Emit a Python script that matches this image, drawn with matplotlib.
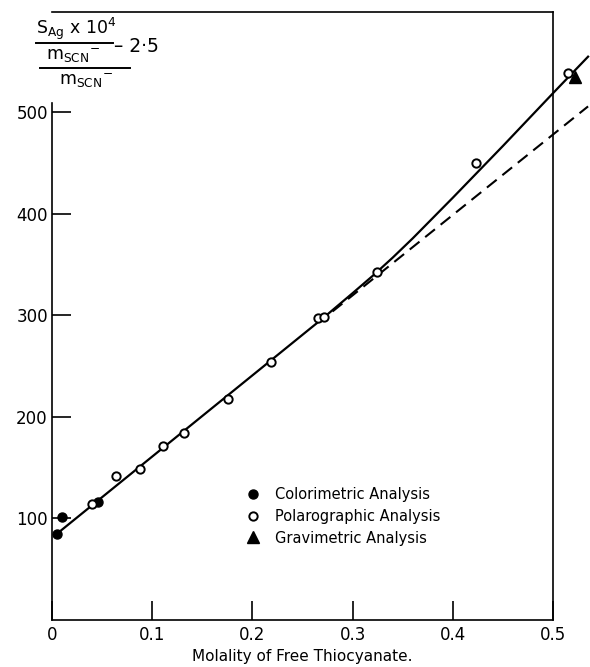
import numpy as np
import matplotlib
matplotlib.use("Agg")
import matplotlib.pyplot as plt
from matplotlib.lines import Line2D

# data
colori_x = [0.005, 0.010, 0.046]
colori_y = [85, 101, 116]

polaro_x = [0.040, 0.064, 0.088, 0.111, 0.132, 0.176, 0.219, 0.265, 0.271,
            0.324, 0.423, 0.515]
polaro_y = [114, 142, 149, 171, 184, 218, 254, 298, 299, 343, 450, 539]

gravi_x = [0.522]
gravi_y = [535]

# smooth curve drawn through the data
curve_x = [0.005, 0.10, 0.20, 0.27, 0.30, 0.32, 0.34, 0.36, 0.38, 0.40,
           0.45, 0.50, 0.535]
curve_y = [85, 161, 241, 297, 322, 339, 357, 376, 396, 416,
           467, 519, 555]

# linear extension (dashed)
ext_x = [0.28, 0.535]
ext_y = [304, 506]

xticks = [0, 0.1, 0.2, 0.3, 0.4, 0.5]
xticklabels = ['0', '0.1', '0.2', '0.3', '0.4', '0.5']
yticks = [100, 200, 300, 400, 500]

W, H = 590, 667
fig = plt.figure(figsize=(W / 100, H / 100), dpi=100)
ax = fig.add_axes([52 / W, 1 - 620 / H, (553 - 52) / W, (620 - 12) / H])

ax.plot(curve_x, curve_y, color='black', lw=1.6, clip_on=False, zorder=2)
ax.plot(ext_x, ext_y, color='black', lw=1.5, ls=(0, (6, 3.5)), clip_on=False, zorder=2)

ax.plot(colori_x, colori_y, 'o', color='black', ms=6.5, clip_on=False, zorder=3,
        label='Colorimetric Analysis')
ax.plot(polaro_x, polaro_y, 'o', mfc='white', mec='black', mew=1.4, ms=6,
        clip_on=False, zorder=3, label='Polarographic Analysis')
ax.plot(gravi_x, gravi_y, '^', color='black', ms=8, clip_on=False, zorder=4,
        label='Gravimetric Analysis')

ax.set_xlim(0, 0.5)
ax.set_ylim(0, 599)
ax.set_xticks(xticks)
ax.set_xticklabels(xticklabels)
ax.set_yticks(yticks)

ax.tick_params(direction='in', length=13.5, width=1.2, labelsize=12)
ax.tick_params(axis='x', pad=4)
ax.tick_params(axis='y', pad=3)
for s in ax.spines.values():
    s.set_linewidth(1.2)
ax.spines['left'].set_bounds(0, 509)

ax.set_xlabel('Molality of Free Thiocyanate.', fontsize=11, labelpad=4)

ax.legend(loc='upper left', bbox_to_anchor=(0.387, 0.218), frameon=False,
          fontsize=10.5, handlelength=1.0, handletextpad=1.0,
          labelspacing=0.45, borderpad=0, borderaxespad=0)

# stacked fraction label at top left
def px(x, y):
    return x / W, 1 - y / H

fs = 12.5
fig.text(*px(76, 29), r'S$_{\rm Ag}$ x 10$^{4}$', fontsize=fs, ha='center', va='center')
fig.add_artist(Line2D([36 / W, 113 / W], [1 - 43 / H, 1 - 43 / H], color='black', lw=1.4))
fig.text(*px(73, 56), r'm$_{\rm SCN}$$^{-}$', fontsize=fs, ha='center', va='center')
fig.text(*px(114, 46), '\u2013 2\u00b75', fontsize=13.5, ha='left', va='center')
fig.add_artist(Line2D([40 / W, 130 / W], [1 - 68 / H, 1 - 68 / H], color='black', lw=1.4))
fig.text(*px(86, 81), r'm$_{\rm SCN}$$^{-}$', fontsize=fs, ha='center', va='center')

fig.savefig('out.png', dpi=100)
